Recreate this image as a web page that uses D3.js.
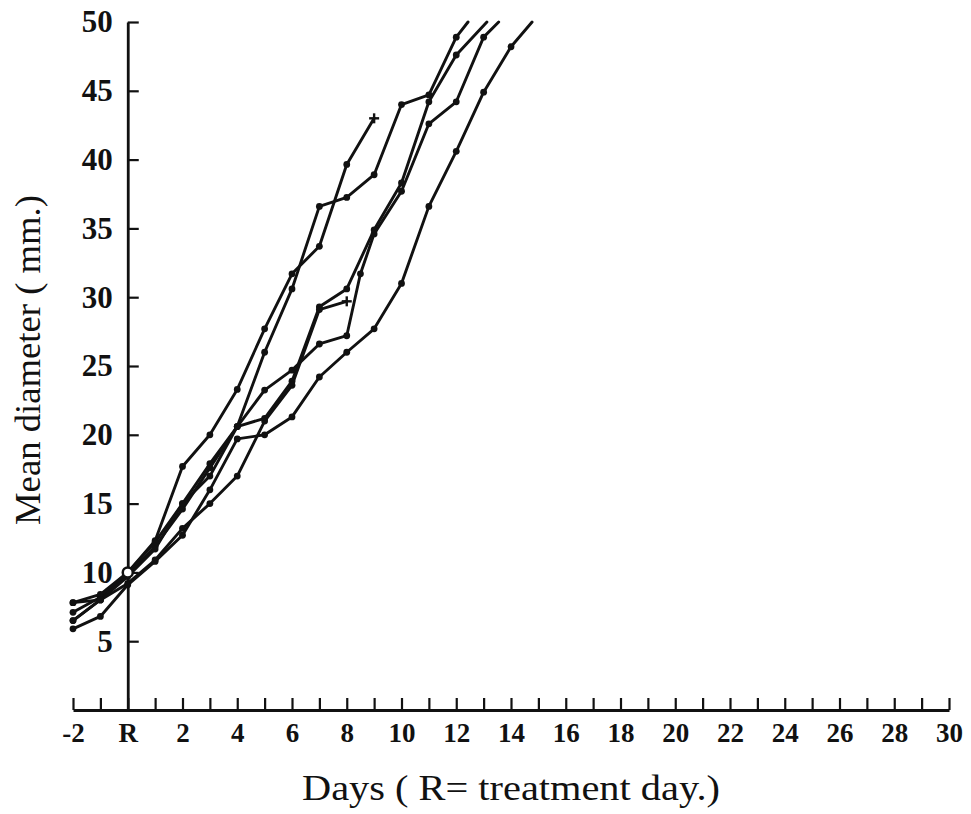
<!DOCTYPE html>
<html>
<head>
<meta charset="utf-8">
<script src="https://cdn.jsdelivr.net/npm/d3@7/dist/d3.min.js"></script>
<style>
  html, body { margin: 0; padding: 0; background: #fff; }
  svg { display: block; }
  text { font-family: "Liberation Serif", "DejaVu Serif", serif; fill: #111; }
</style>
</head>
<body>
<script>
// ---------------- DATA ----------------
const xTicks = d3.range(-2, 31);                 // a tick every day
const xLabelDays = d3.range(-2, 31, 2);          // labels on even days
const xLabelText = d => (d === 0 ? "R" : String(d));
const yTicks = [5, 10, 15, 20, 25, 30, 35, 40, 45, 50];

const treatmentPoint = { day: 0, value: 10 };

// Series A (ends with a cross at day 9)
const daysA = [-2, -1, 0, 1, 2, 3, 4, 5, 6, 7, 8, 9];
const valsA = [7.8, 8.4, 10.0, 12.3, 17.7, 20.0, 23.3, 27.7, 31.7, 33.7, 39.65, 43.0];
// Series B (runs off the top)
const daysB = [-2, -1, 0, 1, 2, 3, 4, 5, 6, 7, 8, 9, 10, 11, 12, 12.43];
const valsB = [7.1, 8.2, 10.0, 12.2, 15.0, 17.9, 20.6, 26.0, 30.6, 36.6, 37.25, 38.9, 44.0, 44.7, 48.9, 50];
// Series C (runs off the top)
const daysC = [-2, -1, 0, 1, 2, 3, 4, 5, 6, 7, 8, 8.5, 9, 10, 11, 12, 13, 13.55];
const valsC = [6.5, 8.0, 9.8, 11.9, 14.6, 17.6, 20.6, 23.25, 24.7, 26.6, 27.2, 31.7, 34.6, 37.7, 42.6, 44.2, 48.9, 50];
// Series D (runs off the top)
const daysD = [-2, -1, 0, 1, 2, 3, 4, 5, 6, 7, 8, 9, 10, 11, 12, 13.12];
const valsD = [7.8, 8.0, 9.7, 11.7, 15.0, 17.0, 20.6, 21.2, 23.9, 29.3, 30.6, 34.9, 38.3, 44.2, 47.6, 50];
// Series E (ends with a cross at day 8)
const daysE = [-2, -1, 0, 1, 2, 3, 4, 5, 6, 7, 8];
const valsE = [6.5, 8.0, 9.2, 10.9, 13.2, 15.0, 17.0, 21.0, 23.6, 29.1, 29.7];
// Series F (runs off the top)
const daysF = [-2, -1, 0, 1, 2, 3, 4, 5, 6, 7, 8, 9, 10, 11, 12, 13, 14, 14.77];
const valsF = [5.9, 6.8, 9.1, 10.8, 12.7, 16.0, 19.7, 20.0, 21.3, 24.2, 26.0, 27.7, 31.0, 36.6, 40.6, 44.9, 48.2, 50];

const seriesEnds = { A: "cross", B: "exit", C: "exit", D: "exit", E: "cross", F: "exit" };

const xTitle = "Days ( R= treatment day.)";
const yTitle = "Mean diameter ( mm.)";

// ---------------- BUILD ----------------
const series = [
  { id: "A", days: daysA, vals: valsA },
  { id: "B", days: daysB, vals: valsB },
  { id: "C", days: daysC, vals: valsC },
  { id: "D", days: daysD, vals: valsD },
  { id: "E", days: daysE, vals: valsE },
  { id: "F", days: daysF, vals: valsF }
].map(s => ({ id: s.id, end: seriesEnds[s.id],
  pts: s.days.map((d, i) => ({ day: d, value: s.vals[i] })) }));

const W = 971, H = 814;
const svg = d3.select("body").append("svg").attr("width", W).attr("height", H);

const x = d3.scaleLinear().domain([-2, 30]).range([73, 949]);
const y = d3.scaleLinear().domain([0, 50]).range([710, 22]);

// X axis: ticks pointing up, labels on even days
const gx = svg.append("g").attr("transform", `translate(0,${y(0)})`);
gx.call(d3.axisBottom(x).tickValues(xTicks).tickSizeInner(-12).tickSizeOuter(0).tickFormat(""));
gx.select(".domain").attr("stroke", "#111").attr("stroke-width", 2.8);
gx.selectAll(".tick line").attr("stroke", "#111").attr("stroke-width", 2.2);

const gxl = svg.append("g").attr("transform", `translate(0,${y(0)})`);
gxl.call(d3.axisBottom(x).tickValues(xLabelDays).tickSize(0).tickPadding(13).tickFormat(xLabelText));
gxl.select(".domain").remove();
gxl.selectAll("text").attr("font-size", 27).attr("font-weight", "bold")
  .attr("font-family", "'Liberation Serif', serif").attr("fill", "#111");

// Y axis at day 0 (R): ticks pointing right, labels on the left
const gy = svg.append("g").attr("transform", `translate(${x(0)},0)`);
gy.call(d3.axisRight(y).tickValues(yTicks).tickSizeInner(11).tickSizeOuter(0).tickFormat(""));
gy.select(".domain").attr("stroke", "#111").attr("stroke-width", 2.8);
gy.selectAll(".tick line").attr("stroke", "#111").attr("stroke-width", 2.2);

const gyl = svg.append("g").attr("transform", `translate(${x(0)},0)`);
gyl.call(d3.axisLeft(y).tickValues(yTicks).tickSize(0).tickPadding(15).tickFormat(d3.format("d")));
gyl.select(".domain").remove();
gyl.selectAll("text").attr("font-size", 31).attr("font-weight", "bold")
  .attr("font-family", "'Liberation Serif', serif").attr("fill", "#111");

// Lines
const line = d3.line().x(d => x(d.day)).y(d => y(d.value));
const gl = svg.append("g");
gl.selectAll("path.series").data(series).join("path")
  .attr("class", "series")
  .attr("d", d => line(d.pts))
  .attr("fill", "none").attr("stroke", "#111").attr("stroke-width", 2.9)
  .attr("stroke-linejoin", "round").attr("stroke-linecap", "round");

// Dot markers (not on the last point of crosses / exits)
const dots = series.flatMap(s => s.pts.slice(0, s.pts.length - 1));
gl.selectAll("circle.dot").data(dots).join("circle")
  .attr("class", "dot")
  .attr("cx", d => x(d.day)).attr("cy", d => y(d.value)).attr("r", 3.4)
  .attr("fill", "#111");

// Cross end markers
const crossEnds = series.filter(s => s.end === "cross").map(s => s.pts[s.pts.length - 1]);
const gc = gl.selectAll("g.cross").data(crossEnds).join("g")
  .attr("class", "cross")
  .attr("transform", d => `translate(${x(d.day)},${y(d.value)})`);
gc.append("line").attr("x1", -5).attr("x2", 5).attr("y1", 0).attr("y2", 0)
  .attr("stroke", "#111").attr("stroke-width", 2.4);
gc.append("line").attr("x1", 0).attr("x2", 0).attr("y1", -5).attr("y2", 5)
  .attr("stroke", "#111").attr("stroke-width", 2.4);

// Treatment point (open circle)
gl.append("circle")
  .attr("cx", x(treatmentPoint.day)).attr("cy", y(treatmentPoint.value)).attr("r", 5)
  .attr("fill", "#fff").attr("stroke", "#111").attr("stroke-width", 2.5);

// Titles
svg.append("text")
  .attr("x", 511).attr("y", 800).attr("text-anchor", "middle")
  .attr("font-size", 35)
  .attr("textLength", 418).attr("lengthAdjust", "spacingAndGlyphs")
  .text(xTitle);

svg.append("text")
  .attr("transform", "translate(40,360) rotate(-90)")
  .attr("text-anchor", "middle")
  .attr("font-size", 35)
  .attr("textLength", 330).attr("lengthAdjust", "spacingAndGlyphs")
  .text(yTitle);
</script>
</body>
</html>
